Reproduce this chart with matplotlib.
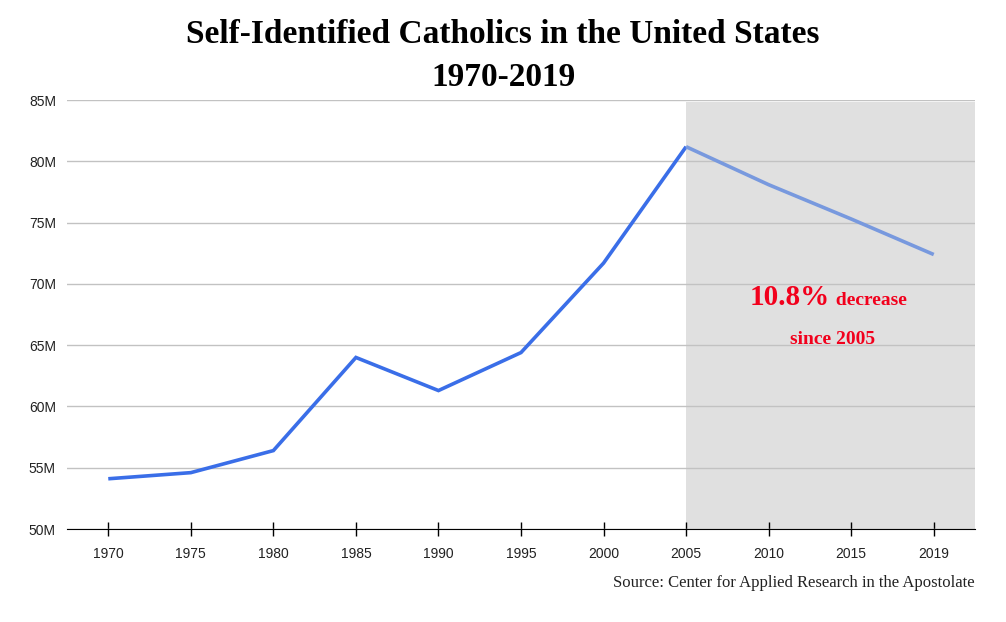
import matplotlib
matplotlib.use("Agg")
import matplotlib.pyplot as plt

years = ["1970", "1975", "1980", "1985", "1990", "1995", "2000", "2005", "2010", "2015", "2019"]
catholics = [54.1, 54.6, 56.4, 64.0, 61.3, 64.4, 71.7, 81.2, 78.1, 75.3, 72.4]  # millions
yticks = [50, 55, 60, 65, 70, 75, 80, 85]
split = years.index("2005")

fig = plt.figure(figsize=(10.06, 6.22), dpi=100)
ax = fig.add_axes([0.0666, 0.1495, 0.9026, 0.6895])

x = list(range(len(years)))

# shaded region after 2005
ax.fill_between([split, len(years) - 0.5], 50, 84.85, color="#e0e0e0", zorder=0, linewidth=0)

ax.plot(x[:split + 1], catholics[:split + 1], color="#3a6ee8", lw=2.6, zorder=3,
        solid_capstyle="butt", solid_joinstyle="miter")
ax.plot(x[split:], catholics[split:], color="#7899de", lw=2.6, zorder=3,
        solid_capstyle="butt")

ax.set_xlim(-0.5, len(years) - 0.5)
ax.set_ylim(50, 85)
ax.set_yticks(yticks)
ax.set_yticklabels([f"{v}M" for v in yticks])
ax.set_xticks(x)
ax.set_xticklabels(years)
ax.grid(axis="y", color="#c2c2c2", lw=1, zorder=1)
ax.set_axisbelow(False)
for s in ["top", "right", "left"]:
    ax.spines[s].set_visible(False)
ax.spines["bottom"].set_color("black")
ax.spines["bottom"].set_zorder(4)
ax.tick_params(axis="x", direction="inout", length=10, width=1, pad=8)
ax.tick_params(axis="y", length=0, pad=8)
for lab in ax.get_xticklabels() + ax.get_yticklabels():
    lab.set_fontfamily("Liberation Sans")
    lab.set_fontsize(10)
    lab.set_color("#222222")

fig.text(0.5, 0.944, "Self-Identified Catholics in the United States", ha="center", va="center",
         fontsize=24, fontweight="bold", family="Liberation Serif")
fig.text(0.5, 0.876, "1970-2019", ha="center", va="center",
         fontsize=24, fontweight="bold", family="Liberation Serif")

red = "#f2001c"
ax.text(8.74, 68.3, "10.8%", ha="right", va="baseline", fontsize=21, fontweight="bold",
        family="Liberation Serif", color=red)
ax.text(8.76, 68.3, " decrease", ha="left", va="baseline", fontsize=14, fontweight="bold",
        family="Liberation Serif", color=red)
ax.text(8.77, 65.1, "since 2005", ha="center", va="baseline", fontsize=14, fontweight="bold",
        family="Liberation Serif", color=red)

fig.text(0.969, 0.062, "Source: Center for Applied Research in the Apostolate", ha="right", va="center",
         fontsize=12, family="Liberation Serif", color="#222222")

fig.savefig("out.png", dpi=100, facecolor="white")
